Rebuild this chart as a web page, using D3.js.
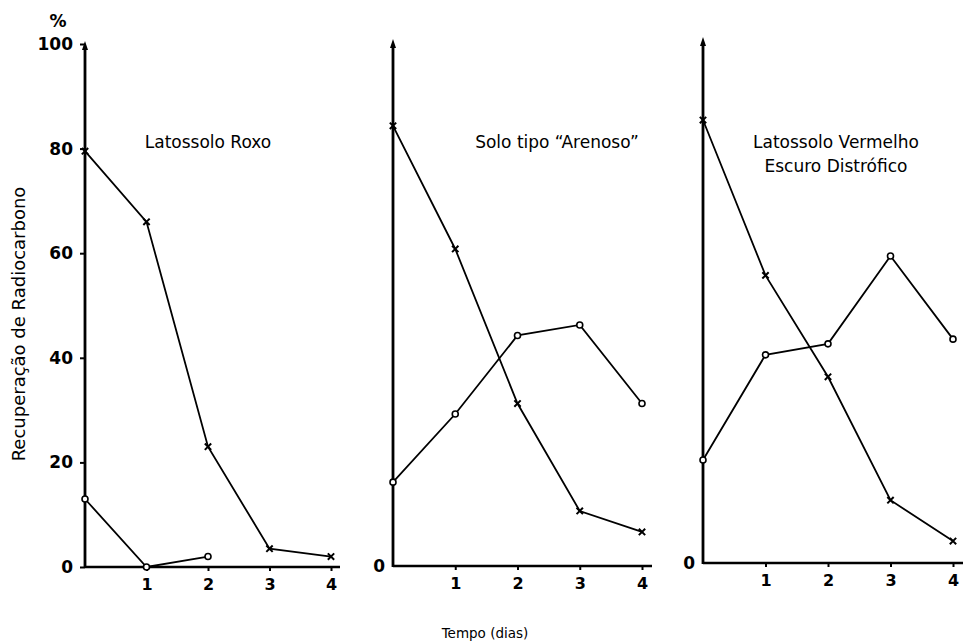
<!DOCTYPE html>
<html>
<head>
<meta charset="utf-8">
<script src="https://cdn.jsdelivr.net/npm/d3@7"></script>
<style>
html,body{margin:0;padding:0;background:#fff;}
svg{display:block;}
</style>
</head>
<body>
<svg id="chart" width="963" height="643"></svg>
<script>
// ---- data ----
const days = [0, 1, 2, 3, 4];
const xTickValues = [1, 2, 3, 4];
const yTickValues = [0, 20, 40, 60, 80, 100];
const panelTitles = [
  ["Latossolo Roxo"],
  ["Solo tipo \u201CArenoso\u201D"],
  ["Latossolo Vermelho", "Escuro Distr\u00F3fico"]
];
// series marked with "x"
const crossSeries = [
  [79.5, 66, 23, 3.5, 2],
  [84, 60.5, 31, 10.5, 6.5],
  [84.7, 55, 35.6, 12, 4.2]
];
// series marked with open circles (first panel measured only to day 2)
const circleDays = [
  [0, 1, 2],
  [0, 1, 2, 3, 4],
  [0, 1, 2, 3, 4]
];
const circleSeries = [
  [13, 0, 2],
  [16, 29, 44, 46, 31],
  [19.7, 39.8, 41.9, 58.7, 42.8]
];
const yTitle = "Recupera\u00E7\u00E3o de Radiocarbono";
const xTitle = "Tempo (dias)";
const unitLabel = "%";

// ---- layout ----
const panels = [
  {x0: 85, x4: 331, y0: 567, y100: 44, axisEnd: 340, titleX: 208, titleY: 148, fullY: true},
  {x0: 393, x4: 642, y0: 566, y100: 42, axisEnd: 652, titleX: 557, titleY: 148, fullY: false},
  {x0: 703, x4: 953, y0: 563, y100: 40, axisEnd: 963, titleX: 836, titleY: 148, fullY: false}
];

const svg = d3.select("#chart");
const tickFont = "'DejaVu Sans', sans-serif";
const textFont = "'DejaVu Sans', 'Liberation Sans', sans-serif";

panels.forEach((p, i) => {
  const x = d3.scaleLinear().domain([0, 4]).range([p.x0, p.x4]);
  const y = d3.scaleLinear().domain([0, 100]).range([p.y0, p.y100]);
  const g = svg.append("g");

  // axis lines
  g.append("line").attr("x1", x(0)).attr("x2", p.axisEnd)
    .attr("y1", y(0)).attr("y2", y(0))
    .attr("stroke", "#000").attr("stroke-width", 2.6);
  g.append("line").attr("x1", x(0)).attr("x2", x(0))
    .attr("y1", y(0) + 1).attr("y2", y(100) + 4)
    .attr("stroke", "#000").attr("stroke-width", 2.8);
  // arrow head
  const ax = x(0), ay = y(100) - 3;
  g.append("path")
    .attr("d", `M${ax},${ay} L${ax - 3},${ay + 9} L${ax + 3},${ay + 9} Z`)
    .attr("fill", "#000");

  // y axis ticks / labels
  const yAxis = d3.axisLeft(y)
    .tickValues(p.fullY ? yTickValues : [0])
    .tickSize(p.fullY ? 5 : 0)
    .tickPadding(p.fullY ? 7 : 8)
    .tickFormat(d3.format("d"));
  const ya = g.append("g").attr("transform", `translate(${x(0)},0)`).call(yAxis);
  ya.select(".domain").remove();
  ya.selectAll("line").attr("stroke", "#000").attr("stroke-width", 2);
  ya.selectAll("text").attr("font-family", tickFont).attr("font-weight", "bold")
    .attr("font-size", 17).attr("fill", "#000");

  // x axis ticks / labels
  const xAxis = d3.axisBottom(x).tickValues(xTickValues).tickSize(4).tickPadding(8)
    .tickFormat(d3.format("d"));
  const xa = g.append("g").attr("transform", `translate(0,${y(0)})`).call(xAxis);
  xa.select(".domain").remove();
  xa.selectAll("line").attr("stroke", "#000").attr("stroke-width", 2);
  xa.selectAll("text").attr("font-family", tickFont).attr("font-weight", "bold")
    .attr("font-size", 16).attr("fill", "#000");

  // lines
  const line = d3.line().x(d => x(d[0])).y(d => y(d[1]));
  const crossPts = days.map((d, k) => [d, crossSeries[i][k]]);
  const circPts = circleDays[i].map((d, k) => [d, circleSeries[i][k]]);
  g.append("path").datum(crossPts).attr("d", line)
    .attr("fill", "none").attr("stroke", "#000").attr("stroke-width", 1.8);
  g.append("path").datum(circPts).attr("d", line)
    .attr("fill", "none").attr("stroke", "#000").attr("stroke-width", 1.8);

  // markers
  g.selectAll(".xm").data(crossPts).enter().append("path")
    .attr("transform", d => `translate(${x(d[0])},${y(d[1])})`)
    .attr("d", d3.symbol().type(d3.symbolX).size(28))
    .attr("fill", "none").attr("stroke", "#000").attr("stroke-width", 2);
  g.selectAll(".om").data(circPts).enter().append("circle")
    .attr("cx", d => x(d[0])).attr("cy", d => y(d[1])).attr("r", 3)
    .attr("fill", "#fff").attr("stroke", "#000").attr("stroke-width", 1.6);

  // title
  panelTitles[i].forEach((t, k) => {
    g.append("text").attr("x", p.titleX).attr("y", p.titleY + k * 24)
      .attr("text-anchor", "middle").attr("font-family", textFont)
      .attr("font-size", 17).attr("fill", "#000").text(t);
  });
});

// unit label
svg.append("text").attr("x", 58).attr("y", 27).attr("text-anchor", "middle")
  .attr("font-family", tickFont).attr("font-weight", "bold").attr("font-size", 17)
  .text(unitLabel);

// y title
svg.append("text").attr("transform", "translate(25,324) rotate(-90)")
  .attr("text-anchor", "middle").attr("font-family", textFont).attr("font-size", 18)
  .text(yTitle);

// x title
svg.append("text").attr("x", 485).attr("y", 638).attr("text-anchor", "middle")
  .attr("font-family", textFont).attr("font-size", 13.5).text(xTitle);
</script>
</body>
</html>
